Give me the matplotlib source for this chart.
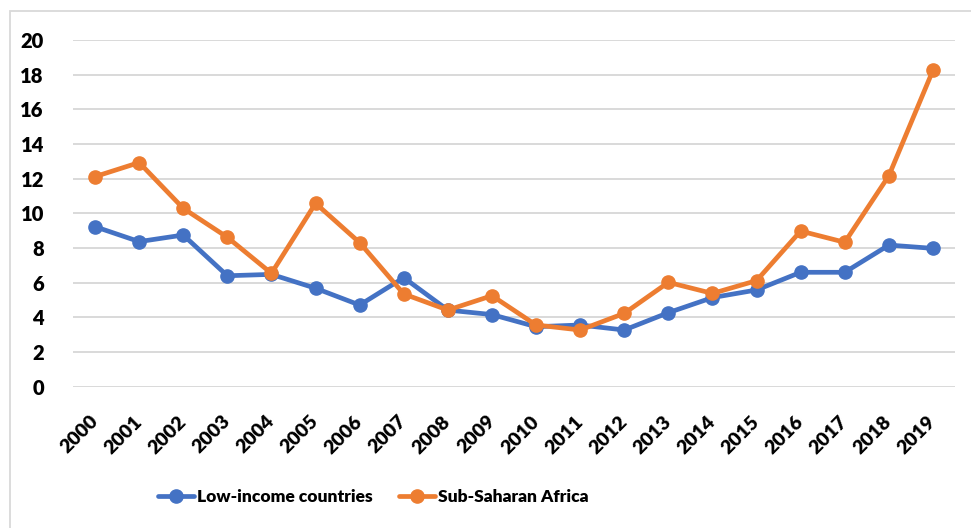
import matplotlib
matplotlib.use("Agg")
import matplotlib.pyplot as plt
from matplotlib.patches import Rectangle

years = ["2000", "2001", "2002", "2003", "2004", "2005", "2006", "2007", "2008", "2009",
         "2010", "2011", "2012", "2013", "2014", "2015", "2016", "2017", "2018", "2019"]
low_income = [9.23, 8.37, 8.75, 6.40, 6.48, 5.68, 4.71, 6.29, 4.42, 4.16,
              3.46, 3.56, 3.27, 4.27, 5.14, 5.58, 6.60, 6.60, 8.17, 7.98]
sub_saharan = [12.12, 12.93, 10.29, 8.62, 6.54, 10.58, 8.31, 5.35, 4.42, 5.25,
               3.56, 3.27, 4.23, 6.02, 5.38, 6.12, 8.98, 8.33, 12.17, 18.25]
y_ticks = [0, 2, 4, 6, 8, 10, 12, 14, 16, 18, 20]

plt.rcParams["font.family"] = ["Lato", "DejaVu Sans"]
plt.rcParams["font.weight"] = "bold"

W, H = 971, 528
fig = plt.figure(figsize=(W / 100, H / 100), dpi=100)
fig.patch.set_facecolor("white")

# outer chart frame
fig.patches.append(Rectangle((9.5 / W, -0.05), 1.2, 1 - 11 / H + 0.05,
                             transform=fig.transFigure, fill=False,
                             edgecolor="#D9D9D9", linewidth=1.3))

ax = fig.add_axes([73 / W, 1 - 386.7 / H, (955 - 73) / W, (386.7 - 40) / H])
x = list(range(len(years)))

blue = "#4472C4"
orange = "#ED7D31"
ax.plot(x, low_income, color=blue, lw=3.4, marker="o", markersize=9.5,
        solid_capstyle="round", label="Low-income countries", zorder=3)
ax.plot(x, sub_saharan, color=orange, lw=3.4, marker="o", markersize=9.5,
        solid_capstyle="round", label="Sub-Saharan Africa", zorder=4)

ax.set_xlim(-0.5, len(years) - 0.5)
ax.set_ylim(0, 20)
ax.set_yticks(y_ticks)
ax.set_yticklabels([str(v) for v in y_ticks], fontsize=14.5, fontweight="heavy")
ax.set_xticks(x)
ax.set_xticklabels(years, rotation=45, ha="right", va="center",
                   rotation_mode="anchor", fontsize=14, fontweight="heavy")
ax.tick_params(axis="y", length=0, pad=21)
ax.tick_params(axis="x", length=0, pad=23)

ax.grid(axis="y", color="#D9D9D9", linewidth=1.4)
ax.set_axisbelow(True)
for s in ax.spines.values():
    s.set_visible(False)

leg = fig.legend(loc="center", bbox_to_anchor=(373 / W, 1 - 497 / H), ncol=2,
                 frameon=False, handlelength=2.1, handletextpad=0.15,
                 columnspacing=1.5,
                 prop={"family": ["Lato"], "weight": "heavy", "size": 12.5})

fig.savefig("out.png", dpi=100, facecolor="white")
